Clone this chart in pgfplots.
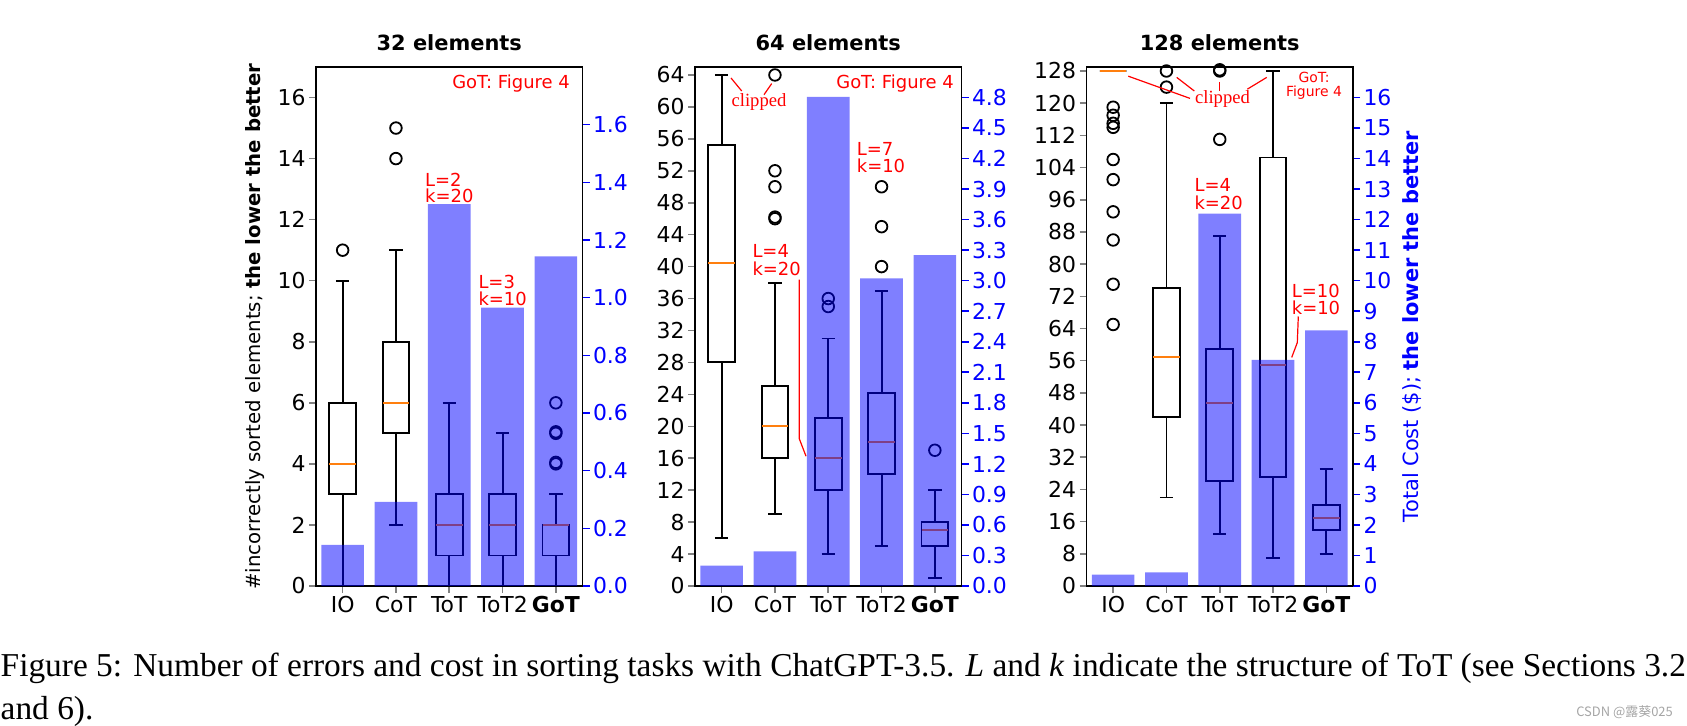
\documentclass[border=0pt]{standalone}
\usepackage{fontspec}
\setmainfont{DejaVu Sans}
\newfontfamily\capfont{Liberation Serif}
\newfontfamily\cjk{Noto Sans CJK SC}
\usepackage{pgfplots}
\pgfplotsset{compat=1.18}
\definecolor{mplorange}{RGB}{255,127,14}
\definecolor{wm}{RGB}{165,165,165}
\newcommand\af{\fontsize{18}{18}\selectfont}
\pgfplotsset{
  base/.style={
    scale only axis, width=266.5bp, height=519bp, anchor=south west,
    xmin=0.5, xmax=5.5, ymin=0,
    tick align=outside, major tick length=7bp,
    axis line style={line width=1.7bp},
    tick style={line width=1.6bp},
    /pgf/number format/assume math mode=true,
    tick label style={font=\fontsize{22}{22}\selectfont},
  },
  leftax/.style={base,
    xtick={1,2,3,4,5}, xticklabels={IO,CoT,ToT,ToT2,\textbf{GoT}},
    xtick pos=bottom, ytick pos=left,
    title style={font=\bfseries\fontsize{21}{21}\selectfont, at={(0.5,1)}, anchor=base, yshift=11bp},
    unbounded coords=jump,
  },
  rightax/.style={base, axis y line*=right, hide x axis,
    tick style={blue, line width=1.6bp},
    yticklabel style={blue},
  },
  boxline/.style={black, line width=1.9bp, no marks, line join=miter},
  outl/.style={black, only marks, mark=o, mark size=5.8bp, mark options={solid, line width=1.8bp}},
  cost/.style={ybar, bar width=0.8, fill=blue, fill opacity=0.5, draw=none},
}
% box plot from its five numbers: position, lower whisker, lower quartile, median, upper quartile, upper whisker
\newcommand\bx[6]{%
  \pgfmathsetmacro\bxl{#1-0.25}\pgfmathsetmacro\bxr{#1+0.25}%
  \pgfmathsetmacro\cpl{#1-0.125}\pgfmathsetmacro\cpr{#1+0.125}%
  \addplot[boxline] coordinates {(\bxl,#3) (\bxr,#3) (\bxr,#5) (\bxl,#5) (\bxl,#3) (\bxr,#3)};
  \addplot[boxline] coordinates {(#1,#3) (#1,#2) (nan,nan) (\cpl,#2) (\cpr,#2) (nan,nan) (#1,#5) (#1,#6) (nan,nan) (\cpl,#6) (\cpr,#6)};
  \addplot[boxline, mplorange] coordinates {(\bxl,#4) (\bxr,#4)};
}
\begin{document}
\begin{tikzpicture}[x=1bp,y=1bp]
\coordinate (A1) at (316,140);
\coordinate (A2) at (695,140);
\coordinate (A3) at (1086.5,140);

% ---------------- 32 elements ----------------
\begin{axis}[leftax, at={(A1)}, ymax=17, ytick={0,2,4,6,8,10,12,14,16},
  title={32 elements},
  ylabel={\#incorrectly sorted elements; \textbf{the lower the better}},
  ylabel style={font=\fontsize{19.8}{19.8}\selectfont, at={(axis description cs:-0.229,0.5)}, anchor=center}]
\bx{1}{0}{3}{4}{6}{10}
\bx{2}{2}{5}{6}{8}{11}
\bx{3}{0}{1}{2}{3}{6}
\bx{4}{0}{1}{2}{3}{5}
\bx{5}{0}{1}{2}{2}{3}
\addplot[outl] coordinates {(1,11) (2,14) (2,15) (5,4) (5,4.05) (5,5) (5,5.05) (5,6)};
\end{axis}
\begin{axis}[rightax, at={(A1)}, ymax=1.8,
  ytick={0,0.2,0.4,0.6,0.8,1.0,1.2,1.4,1.6},
  yticklabel style={/pgf/number format/.cd, fixed, fixed zerofill, precision=1}]
\addplot[cost] coordinates {(1,0.143) (2,0.292) (3,1.324) (4,0.965) (5,1.143)};
\end{axis}

% ---------------- 64 elements ----------------
\begin{axis}[leftax, at={(A2)}, ymax=65, ytick={0,4,...,64},
  title={64 elements}]
\bx{1}{6}{28}{40.5}{55.2}{64}
\bx{2}{9}{16}{20}{25}{38}
\bx{3}{4}{12}{16}{21}{31}
\bx{4}{5}{14}{18}{24.2}{37}
\bx{5}{1}{5}{7}{8}{12}
\addplot[outl] coordinates {(2,46) (2,46.2) (2,50) (2,52) (2,64) (3,35) (3,36) (4,40) (4,45) (4,50) (5,17)};
\end{axis}
\begin{axis}[rightax, at={(A2)}, ymax=5.1,
  ytick={0,0.3,0.6,0.9,1.2,1.5,1.8,2.1,2.4,2.7,3.0,3.3,3.6,3.9,4.2,4.5,4.8},
  yticklabel style={/pgf/number format/.cd, fixed, fixed zerofill, precision=1}]
\addplot[cost] coordinates {(1,0.200) (2,0.339) (3,4.807) (4,3.022) (5,3.252)};
\end{axis}

% ---------------- 128 elements ----------------
\begin{axis}[leftax, at={(A3)}, ymax=129, ytick={0,8,...,128},
  title={128 elements}]
\bx{1}{128}{128}{128}{128}{128}
\bx{2}{22}{42}{57}{74}{120}
\bx{3}{13}{26}{45.5}{59}{87}
\bx{4}{7}{27}{55}{106.5}{128}
\bx{5}{8}{14}{17}{20.2}{29}
\addplot[outl] coordinates {(1,65) (1,75) (1,86) (1,93) (1,101) (1,106) (1,114) (1,115) (1,117) (1,119) (2,124) (2,128) (3,111) (3,128) (3,128.3)};
\end{axis}
\begin{axis}[rightax, at={(A3)}, ymax=17, ytick={0,1,...,16},
  ylabel={Total Cost (\$); \textbf{the lower the better}},
  ylabel style={text=blue, font=\fontsize{21}{21}\selectfont, at={(axis description cs:1.223,0.5)}, anchor=center}]
\addplot[cost] coordinates {(1,0.376) (2,0.448) (3,12.20) (4,7.41) (5,8.37)};
\end{axis}

% ---------------- annotations ----------------
\begin{scope}[every node/.style={inner sep=0, text=red, font=\af}]
\node[anchor=base east] at (570,637) {GoT: Figure 4};
\node[anchor=base west] at (425,539.4) {L=2};
\node[anchor=base west] at (425,523) {k=20};
\node[anchor=base west] at (478.3,437.8) {L=3};
\node[anchor=base west] at (478.3,420.1) {k=10};
\node[anchor=base, font=\capfont\fontsize{18.7}{18.7}\selectfont] at (759,619.7) {clipped};
\node[anchor=base east] at (954,637) {GoT: Figure 4};
\node[anchor=base west] at (856.7,570.4) {L=7};
\node[anchor=base west] at (856.7,553.4) {k=10};
\node[anchor=base west] at (752.3,468.5) {L=4};
\node[anchor=base west] at (752.3,450.8) {k=20};
\node[anchor=base, font=\capfont\fontsize{18.7}{18.7}\selectfont] at (1222.5,622.5) {clipped};
\node[anchor=base, font=\fontsize{14}{14}\selectfont] at (1314,643.5) {GoT:};
\node[anchor=base, font=\fontsize{14}{14}\selectfont] at (1314,629.9) {Figure 4};
\node[anchor=base west] at (1194.3,534) {L=4};
\node[anchor=base west] at (1194.3,516.6) {k=20};
\node[anchor=base west] at (1291.7,428.6) {L=10};
\node[anchor=base west] at (1291.7,411.9) {k=10};
\end{scope}
\begin{scope}[red, line width=1.2bp]
\draw (731,648) -- (741.7,635);
\draw (771.7,642.4) -- (764,631.3);
\draw (799.3,446.3) -- (799.3,287.2) -- (806,269.8);
\draw (1128.3,649.8) -- (1190,627.6);
\draw (1176.7,648.6) -- (1194.3,635);
\draw (1219.3,644.2) -- (1219.3,635);
\draw (1266.7,648.6) -- (1247.3,636.8);
\draw (1298.3,409.5) -- (1297.3,383.4) -- (1291.7,368.6);
\end{scope}

% ---------------- caption ----------------
\node[anchor=base west, inner sep=0] at (0.5,49.4) {\resizebox{1685bp}{!}{\capfont\fontsize{10}{13}\selectfont
  \begin{tabular}[t]{@{}l@{}}
  Figure 5: Number of errors and cost in sorting tasks with ChatGPT-3.5. \textit{L} and \textit{k} indicate the structure of ToT (see Sections 3.2\\
  and 6).
  \end{tabular}}};
\node[anchor=east, inner sep=0, text=wm, font=\cjk\fontsize{13}{13}\selectfont] at (1673,14) {CSDN @露葵025};

\pgfresetboundingbox
\path[use as bounding box] (0,0) rectangle (1687,726);
\end{tikzpicture}
\end{document}
